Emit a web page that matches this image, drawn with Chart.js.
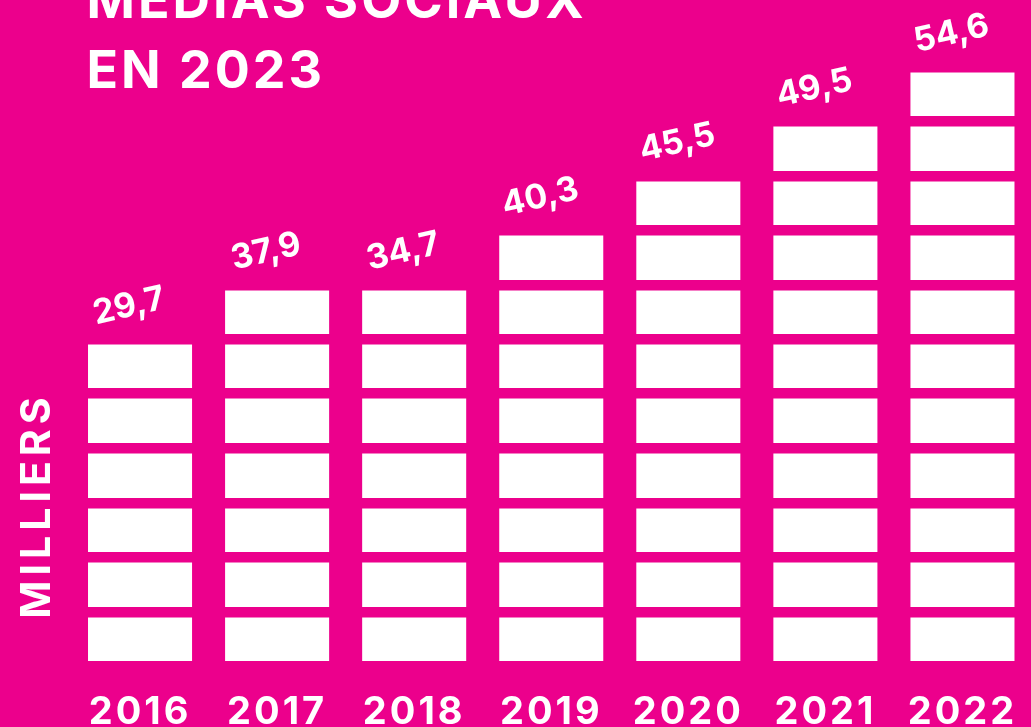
<!DOCTYPE html>
<html>
<head>
<meta charset="utf-8">
<script src="https://cdn.jsdelivr.net/npm/chart.js@4/dist/chart.umd.min.js"></script>
<style>
  html, body { margin: 0; padding: 0; background: #EC008C; overflow: hidden; }
  #wrap { width: 1031px; height: 727px; position: relative; }
</style>
</head>
<body>
<div id="wrap"><canvas id="c" width="1031" height="727"></canvas></div>
<script>
// ---- data ----
const years = ['2016', '2017', '2018', '2019', '2020', '2021', '2022'];
const values = [29.7, 37.9, 34.7, 40.3, 45.5, 49.5, 54.6];      // labels (milliers)
const blocks = [6, 7, 7, 8, 9, 10, 11];                         // stacked white blocks drawn per bar
const titleLines = ['MÉDIAS SOCIAUX', 'EN 2023'];
const axisTitle = 'MILLIERS';

const PINK = '#EC008C';
const WHITE = '#FFFFFF';
const FONT = 'Inter, "Open Sans", "DejaVu Sans", sans-serif';

const fmt = v => v.toFixed(1).replace('.', ',');

const bgPlugin = {
  id: 'bg',
  beforeDraw(chart) {
    const ctx = chart.ctx;
    ctx.fillStyle = PINK;
    ctx.fillRect(0, 0, chart.width, chart.height);
    ctx.letterSpacing = '3px';   // wider tick labels (Gotham-like)
  }
};

const decoPlugin = {
  id: 'deco',
  afterDraw(chart) {
    const ctx = chart.ctx;
    ctx.save();
    ctx.fillStyle = WHITE;
    // title
    ctx.font = '700 52px ' + FONT;
    ctx.textAlign = 'left';
    ctx.textBaseline = 'alphabetic';
    ctx.letterSpacing = '3px';
    ctx.fillText(titleLines[0], 86.5, 18);
    ctx.fillText(titleLines[1], 86.5, 88);
    // vertical axis title
    ctx.save();
    ctx.translate(38, 508);
    ctx.rotate(-Math.PI / 2);
    ctx.font = '700 41px ' + FONT;
    ctx.letterSpacing = '5px';
    ctx.textAlign = 'center';
    ctx.textBaseline = 'middle';
    ctx.fillText(axisTitle, 2.5, 0);
    ctx.restore();
    // value labels
    const meta = chart.getDatasetMeta(0);
    meta.data.forEach((bar, i) => {
      ctx.save();
      ctx.translate(bar.x - 11, bar.y - 33);
      ctx.rotate(-13 * Math.PI / 180);
      ctx.font = '700 34px ' + FONT;
      ctx.letterSpacing = '0px';
      ctx.textAlign = 'center';
      ctx.textBaseline = 'middle';
      ctx.fillText(fmt(values[i]), 0, 0);
      ctx.restore();
    });
    ctx.restore();
  }
};

new Chart(document.getElementById('c'), {
  type: 'bar',
  data: {
    labels: years,
    datasets: [{
      data: blocks,
      backgroundColor: WHITE,
      borderWidth: 0,
      barPercentage: 0.759,
      categoryPercentage: 1.0
    }]
  },
  options: {
    responsive: false,
    animation: false,
    devicePixelRatio: 1,
    layout: { padding: { left: 71.5, right: 0, top: 12.25, bottom: 0 } },
    plugins: { legend: { display: false }, tooltip: { enabled: false }, title: { display: false } },
    scales: {
      x: {
        grid: { display: false },
        border: { display: false },
        ticks: {
          color: WHITE,
          font: { family: FONT, size: 38, weight: '700', lineHeight: 1 },
          padding: 19,
          maxRotation: 0,
          autoSkip: false
        },
        afterFit(axis) { axis.height = 60.75; }
      },
      y: {
        min: 0,
        max: 12,
        ticks: { display: false, stepSize: 1 },
        border: { display: false },
        grid: { color: PINK, lineWidth: 10.5, z: 1, drawTicks: false },
        afterFit(axis) { axis.width = 0; }
      }
    }
  },
  plugins: [bgPlugin, decoPlugin]
});
</script>
</body>
</html>
